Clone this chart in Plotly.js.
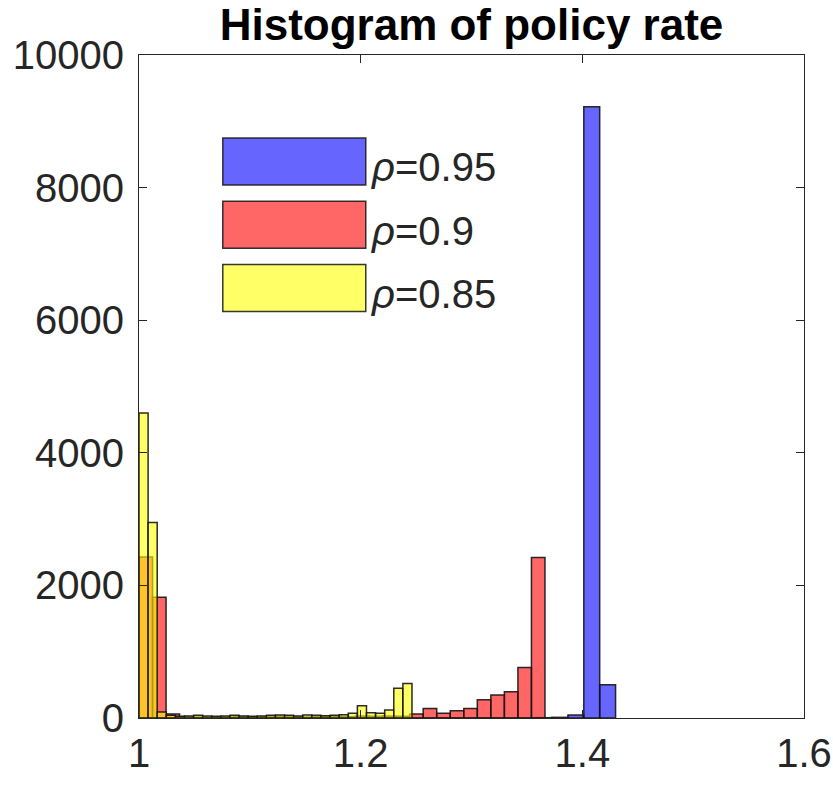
<!DOCTYPE html>
<html>
<head>
<meta charset="utf-8">
<script src="https://cdn.plot.ly/plotly-3.0.1.min.js"></script>
<style>
  html, body { margin: 0; padding: 0; background: #ffffff; }
  #chart { width: 833px; height: 789px; }
</style>
</head>
<body>
<div id="chart"></div>
<script>
// ---- Data ----
var seriesNames = ['\u03c1=0.95', '\u03c1=0.9', '\u03c1=0.85'];
var seriesColors = ['rgba(0,0,255,0.6)', 'rgba(255,0,0,0.6)', 'rgba(255,255,0,0.6)'];

// Each histogram: 30 uniform bins starting at binStart with width binWidth
var binStart95 = 1.0, binWidth95 = 0.014333;
var binStart90 = 1.0, binWidth90 = 0.01221;
var binStart85 = 1.0, binWidth85 = 0.00821;

var counts95 = [0, 0, 0, 0, 0, 0, 0, 0, 0, 0,
                0, 0, 0, 0, 0, 0, 0, 0, 0, 0,
                0, 0, 0, 0, 0, 5, 10, 45, 9220, 500];
var counts90 = [2430, 1820, 60, 20, 15, 10, 15, 20, 15, 20,
                25, 20, 15, 20, 25, 20, 30, 25, 30, 25,
                60, 145, 72, 110, 145, 275, 347, 397, 760, 2420];
var counts85 = [4600, 2950, 90, 40, 25, 30, 40, 30, 25, 30,
                40, 30, 25, 30, 40, 45, 40, 30, 45, 40,
                35, 40, 50, 70, 185, 80, 70, 120, 450, 520];

var xTicks = [1, 1.2, 1.4, 1.6];
var xTickLabels = ['1', '1.2', '1.4', '1.6'];
var yTicks = [0, 2000, 4000, 6000, 8000, 10000];
var yTickLabels = ['0', '2000', '4000', '6000', '8000', '10000'];

// ---- Build traces ----
function binEdges(start, width, n) {
  var e = [];
  for (var i = 0; i < n; i++) e.push(start + i * width);
  return e;
}
var hists = [
  {counts: counts95, start: binStart95, width: binWidth95},
  {counts: counts90, start: binStart90, width: binWidth90},
  {counts: counts85, start: binStart85, width: binWidth85}
];
var traces = hists.map(function (h, i) {
  return {
    type: 'bar',
    name: seriesNames[i],
    x: binEdges(h.start, h.width, h.counts.length),
    y: h.counts,
    width: h.width,
    offset: 0,
    marker: {color: seriesColors[i], line: {color: 'rgba(20,20,20,0.9)', width: 1.5}},
    showlegend: false,
    hoverinfo: 'x+y'
  };
});

var FONT = 'Liberation Sans, Arial, Helvetica, sans-serif';

// Manual MATLAB-style legend (large swatches)
var legTop = 0.875, legH = 0.071, legStep = 0.0955;
var shapes = [], annotations = [];
seriesNames.forEach(function (name, i) {
  var y1 = legTop - i * legStep, y0 = y1 - legH;
  shapes.push({type: 'rect', xref: 'paper', yref: 'paper',
    x0: 0.126, x1: 0.341, y0: y0, y1: y1,
    fillcolor: seriesColors[i], line: {color: 'rgba(20,20,20,0.85)', width: 1.5}});
  var parts = name.split('=');
  annotations.push({xref: 'paper', yref: 'paper', x: 0.346, y: (y0 + y1) / 2 - 0.009,
    xanchor: 'left', yanchor: 'middle', showarrow: false,
    text: '<i>' + parts[0] + '</i>=' + parts[1],
    font: {family: FONT, size: 40, color: '#262626'}});
});

var layout = {
  width: 833, height: 789,
  margin: {l: 139, r: 29, t: 55, b: 71},
  paper_bgcolor: '#ffffff', plot_bgcolor: '#ffffff',
  barmode: 'overlay', bargap: 0,
  title: {text: '<b>Histogram of policy rate</b>', font: {family: FONT, size: 44, color: '#000000'},
          x: 0.5, xref: 'paper', xanchor: 'center', y: 1 - 25 / 789, yref: 'container', yanchor: 'middle'},
  xaxis: {range: [1, 1.6], tickvals: xTicks, ticktext: xTickLabels,
          ticks: 'inside', ticklen: 8, tickwidth: 1, tickcolor: '#262626',
          showline: true, linecolor: '#262626', linewidth: 1, mirror: 'ticks',
          showgrid: false, zeroline: false,
          tickfont: {family: FONT, size: 40, color: '#262626'}},
  yaxis: {range: [0, 10000], tickvals: yTicks, ticktext: yTickLabels,
          ticks: 'inside', ticklen: 8, tickwidth: 1, tickcolor: '#262626',
          showline: true, linecolor: '#262626', linewidth: 1, mirror: 'ticks',
          showgrid: false, zeroline: false, ticklabelstandoff: 6,
          tickfont: {family: FONT, size: 40, color: '#262626'}},
  shapes: shapes,
  annotations: annotations,
  showlegend: false
};

Plotly.newPlot('chart', traces, layout, {displayModeBar: false, staticPlot: true});
</script>
</body>
</html>
